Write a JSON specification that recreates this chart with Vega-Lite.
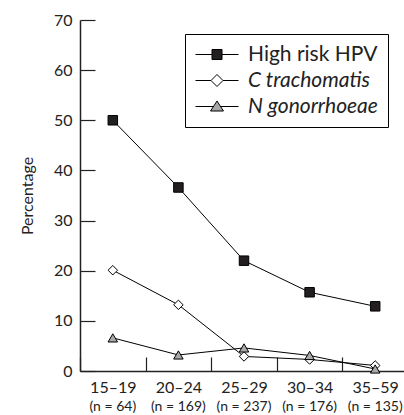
{
  "$schema": "https://vega.github.io/schema/vega-lite/v6.json",
  "width": 328,
  "height": 351,
  "autosize": "none",
  "padding": {"left": 80, "top": 20, "right": 0, "bottom": 44},
  "background": "white",
  "config": {
    "view": {"stroke": null},
    "font": "Lato",
    "axis": {"labelFont": "Lato", "titleFont": "Lato", "labelColor": "#222", "titleColor": "#222", "domainColor": "#222", "tickColor": "#222", "grid": false},
    "legend": {
      "orient": "none", "legendX": 105, "legendY": 14,
      "strokeColor": "black", "padding": 10, "labelFontSize": 21, "labelFont": "Lato", "labelColor": "#222",
      "symbolSize": 400, "labelOffset": 32, "rowPadding": 4, "symbolStrokeColor": "black", "symbolStrokeWidth": 1
    }
  },
  "data": {
    "values": [
      {"age": "15–19", "series": "High risk HPV", "value": 50.0},
      {"age": "20–24", "series": "High risk HPV", "value": 36.6},
      {"age": "25–29", "series": "High risk HPV", "value": 22.0},
      {"age": "30–34", "series": "High risk HPV", "value": 15.7},
      {"age": "35–59", "series": "High risk HPV", "value": 12.9},
      {"age": "15–19", "series": "C trachomatis", "value": 20.1},
      {"age": "20–24", "series": "C trachomatis", "value": 13.2},
      {"age": "25–29", "series": "C trachomatis", "value": 2.9},
      {"age": "30–34", "series": "C trachomatis", "value": 2.3},
      {"age": "35–59", "series": "C trachomatis", "value": 1.1},
      {"age": "15–19", "series": "N gonorrhoeae", "value": 6.6},
      {"age": "20–24", "series": "N gonorrhoeae", "value": 3.2},
      {"age": "25–29", "series": "N gonorrhoeae", "value": 4.6},
      {"age": "30–34", "series": "N gonorrhoeae", "value": 3.1},
      {"age": "35–59", "series": "N gonorrhoeae", "value": 0.4}
    ]
  },
  "resolve": {"axis": {"x": "independent"}},
  "layer": [
    {
      "mark": {"type": "line", "color": "black", "strokeWidth": 1},
      "encoding": {
        "x": {"field": "age", "type": "nominal", "sort": null,
          "scale": {"type": "band", "paddingInner": 0, "paddingOuter": 0},
          "axis": {"orient": "bottom", "title": null, "labelAngle": 0, "labelFontSize": 16, "labelPadding": 22, "tickSize": -14, "tickBand": "extent", "domainWidth": 1.5, "tickWidth": 1.2}},
        "y": {"field": "value", "type": "quantitative",
          "scale": {"domain": [0, 70], "nice": false},
          "axis": {"title": "Percentage", "titleFontSize": 16, "titleFontWeight": "normal", "titlePadding": 18, "values": [0, 10, 20, 30, 40, 50, 60, 70], "labelFontSize": 16, "labelPadding": 23, "tickSize": -15, "domainWidth": 1.5, "tickWidth": 1.2}},
        "detail": {"field": "series"}
      }
    },
    {
      "mark": {"type": "point", "filled": true, "stroke": "black", "strokeWidth": 1, "opacity": 0},
      "encoding": {
        "x": {"field": "age", "type": "nominal", "sort": null,
          "axis": {"orient": "bottom", "title": null, "labelAngle": 0, "labelFontSize": 14, "labelPadding": 28, "ticks": false, "domain": false,
            "labelExpr": "datum.value == '15–19' ? '(n = 64)' : datum.value == '20–24' ? '(n = 169)' : datum.value == '25–29' ? '(n = 237)' : datum.value == '30–34' ? '(n = 176)' : '(n = 135)'"}},
        "y": {"field": "value", "type": "quantitative"},
        "shape": {"field": "series", "type": "nominal",
          "scale": {"domain": ["High risk HPV", "C trachomatis", "N gonorrhoeae"],
            "range": ["M-1,0L0.65,0M1.65,0L3.3,0M0.65,-0.5L1.65,-0.5L1.65,0.5L0.65,0.5Z", "M-1,0L0.55,0M1.75,0L3.3,0M1.15,-0.6L1.75,0L1.15,0.6L0.55,0Z", "M-1,0L0.79,0M1.51,0L3.3,0M1.15,-0.55L1.8,0.45L0.5,0.45Z"]},
          "legend": {
            "title": null,
            "encoding": {
              "symbols": {"stroke": {"value": "black"}, "strokeWidth": {"value": 1}, "opacity": {"value": 1}, "fillOpacity": {"value": 1},
                "fill": {"value": {"expr": "datum.value === 'High risk HPV' ? '#231f20' : datum.value === 'C trachomatis' ? '#ffffff' : '#a8a8a8'"}}},
              "labels": {"fontStyle": {"value": {"expr": "datum.value === 'High risk HPV' ? 'normal' : 'italic'"}}}
            }
          }},
        "fill": {"field": "series", "type": "nominal",
          "scale": {"domain": ["High risk HPV", "C trachomatis", "N gonorrhoeae"], "range": ["#231f20", "#ffffff", "#a8a8a8"]},
          "legend": {
            "title": null,
            "encoding": {
              "symbols": {"stroke": {"value": "black"}, "strokeWidth": {"value": 1}, "opacity": {"value": 1}, "fillOpacity": {"value": 1},
                "fill": {"value": {"expr": "datum.value === 'High risk HPV' ? '#231f20' : datum.value === 'C trachomatis' ? '#ffffff' : '#a8a8a8'"}}},
              "labels": {"fontStyle": {"value": {"expr": "datum.value === 'High risk HPV' ? 'normal' : 'italic'"}}}
            }
          }}
      }
    },
    {
      "transform": [{"filter": "datum.series === 'High risk HPV'"}],
      "mark": {"type": "point", "shape": "square", "filled": true, "fill": "#231f20", "stroke": "black", "strokeWidth": 1, "size": 90, "opacity": 1},
      "encoding": {
        "x": {"field": "age", "type": "nominal", "sort": null, "axis": null},
        "y": {"field": "value", "type": "quantitative"}
      }
    },
    {
      "transform": [{"filter": "datum.series === 'C trachomatis'"}],
      "mark": {"type": "point", "shape": "diamond", "filled": true, "fill": "#ffffff", "stroke": "black", "strokeWidth": 1, "size": 90, "opacity": 1},
      "encoding": {
        "x": {"field": "age", "type": "nominal", "sort": null, "axis": null},
        "y": {"field": "value", "type": "quantitative"}
      }
    },
    {
      "transform": [{"filter": "datum.series === 'N gonorrhoeae'"}],
      "mark": {"type": "point", "shape": "triangle-up", "filled": true, "fill": "#a8a8a8", "stroke": "black", "strokeWidth": 1, "size": 90, "opacity": 1},
      "encoding": {
        "x": {"field": "age", "type": "nominal", "sort": null, "axis": null},
        "y": {"field": "value", "type": "quantitative"}
      }
    }
  ]
}
